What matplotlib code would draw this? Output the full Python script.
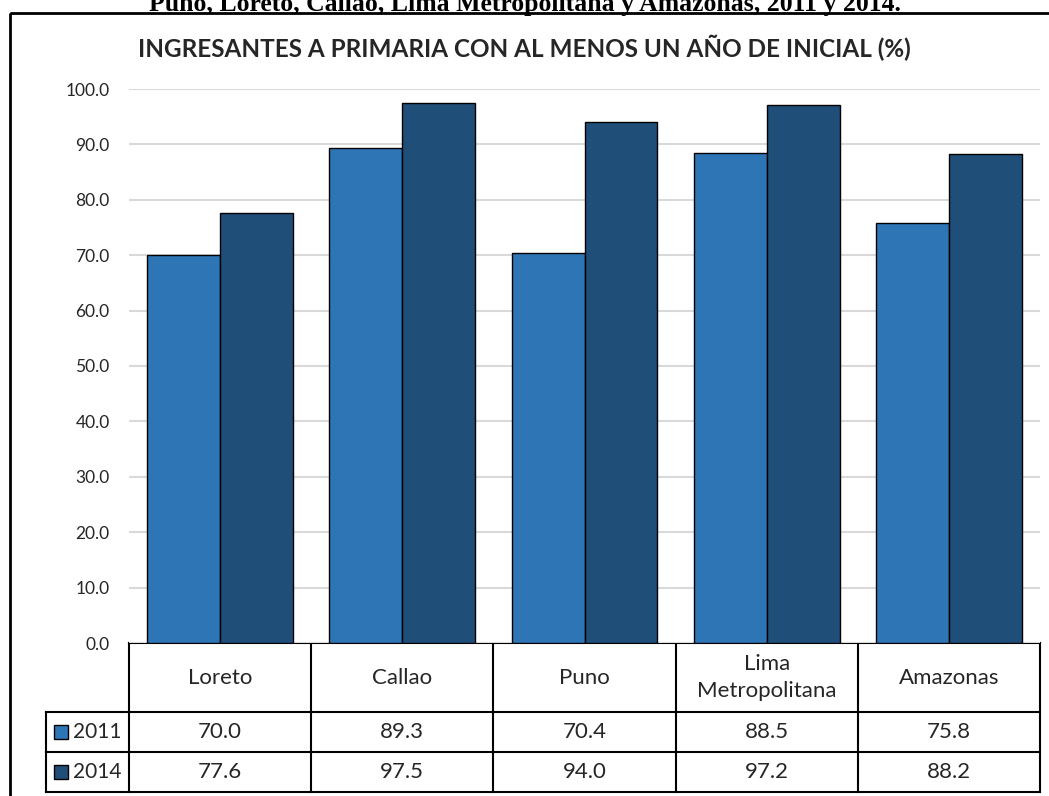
import matplotlib.pyplot as plt
from matplotlib.patches import Rectangle

plt.rcParams['font.family'] = ['Lato', 'DejaVu Sans']

regiones = ['Loreto', 'Callao', 'Puno', 'Lima\nMetropolitana', 'Amazonas']
anios = ['2011', '2014']
v2011 = [70.0, 89.3, 70.4, 88.5, 75.8]
v2014 = [77.6, 97.5, 94.0, 97.2, 88.2]
yticks = [0, 10, 20, 30, 40, 50, 60, 70, 80, 90, 100]

c2011 = '#2E75B6'
c2014 = '#1F4E79'

W, H = 1049, 796
fig = plt.figure(figsize=(W / 100, H / 100), dpi=100)

# capa en pixeles para marco y tabla
bg = fig.add_axes([0, 0, 1, 1])
bg.set_xlim(0, W)
bg.set_ylim(H, 0)
bg.axis('off')

bg.add_patch(Rectangle((10, 13), W + 20, H, fill=False, lw=2, ec='black'))
fig.text(0.5, 1 - 11 / H, 'Puno, Loreto, Callao, Lima Metropolitana y Amazonas, 2011 y 2014.',
         ha='center', va='baseline', family='Liberation Serif', weight='bold', fontsize=18.5)

# eje de barras
x0, x1, ytop, ybot = 129, 1040, 89, 643
ax = fig.add_axes([x0 / W, (H - ybot) / H, (x1 - x0) / W, (ybot - ytop) / H])
pos = list(range(len(regiones)))
ax.bar([p - 0.2 for p in pos], v2011, width=0.4, color=c2011, edgecolor='black', lw=1, zorder=3)
ax.bar([p + 0.2 for p in pos], v2014, width=0.4, color=c2014, edgecolor='black', lw=1, zorder=3)
ax.set_xlim(-0.5, len(regiones) - 0.5)
ax.set_ylim(0, 100)
ax.set_yticks(yticks)
ax.set_yticklabels([f'{t:.1f}' for t in yticks], fontsize=12.5, color='#262626')
ax.tick_params(axis='y', length=0, pad=14)
ax.set_xticks([])
ax.grid(axis='y', color='#D9D9D9', lw=1.5, zorder=0)
for s in ax.spines.values():
    s.set_visible(False)
fig.text(524 / W, 1 - 48 / H, 'INGRESANTES A PRIMARIA CON AL MENOS UN AÑO DE INICIAL (%)',
         ha='center', va='center', fontsize=17.5, weight='bold', color='#262626')

# tabla de datos
ncol = len(regiones)
cw = (x1 - x0) / ncol
rows = [643, 712, 752, 792]
lab_x = 46
lw = 1.5
bg.plot([x0, x1], [rows[0], rows[0]], color='black', lw=lw)
for i in range(ncol + 1):
    xx = x0 + i * cw
    bg.plot([xx, xx], [rows[0], rows[3]], color='black', lw=lw)
for r in rows[1:]:
    bg.plot([lab_x, x1], [r, r], color='black', lw=lw)
bg.plot([lab_x, lab_x], [rows[1], rows[3]], color='black', lw=lw)
for i, reg in enumerate(regiones):
    bg.text(x0 + (i + 0.5) * cw, (rows[0] + rows[1]) / 2, reg, ha='center', va='center',
            fontsize=16, color='#262626', linespacing=1.45)
for j, (anio, vals, col) in enumerate([(anios[0], v2011, c2011), (anios[1], v2014, c2014)]):
    yc = (rows[j + 1] + rows[j + 2]) / 2
    bg.add_patch(Rectangle((54, yc - 7), 14, 14, fc=col, ec='black', lw=1))
    bg.text(73, yc, anio, ha='left', va='center', fontsize=15, color='#262626')
    for i, v in enumerate(vals):
        bg.text(x0 + (i + 0.5) * cw, yc, f'{v:.1f}', ha='center', va='center',
                fontsize=16, color='#262626')

fig.savefig('out.png', dpi=100)
